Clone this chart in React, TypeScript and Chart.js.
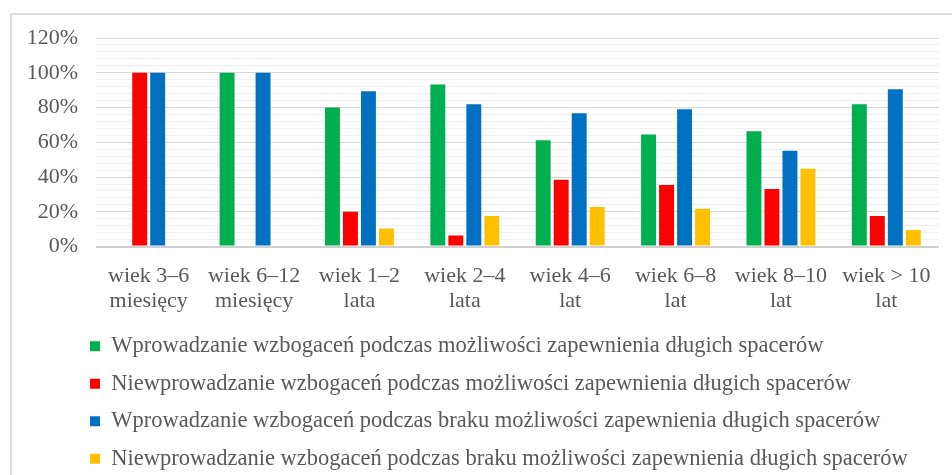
import React, { useEffect, useRef } from "react";
import { Chart, registerables } from "chart.js";

Chart.register(...registerables);

const categories: string[][] = [
  ["wiek 3–6", "miesięcy"],
  ["wiek 6–12", "miesięcy"],
  ["wiek 1–2", "lata"],
  ["wiek 2–4", "lata"],
  ["wiek 4–6", "lat"],
  ["wiek 6–8", "lat"],
  ["wiek 8–10", "lat"],
  ["wiek > 10", "lat"],
];

const seriesNames = [
  "Wprowadzanie wzbogaceń podczas możliwości zapewnienia długich spacerów",
  "Niewprowadzanie wzbogaceń podczas możliwości zapewnienia długich spacerów",
  "Wprowadzanie wzbogaceń podczas braku możliwości zapewnienia długich spacerów",
  "Niewprowadzanie wzbogaceń podczas braku możliwości zapewnienia długich spacerów",
];

const greenValues = [0, 100, 80, 93.3, 61.2, 64.5, 66.4, 81.9];
const redValues = [100, 0, 20, 6.4, 38.4, 35.5, 33.2, 17.6];
const blueValues = [100, 100, 89.4, 81.9, 76.7, 79, 55.1, 90.5];
const yellowValues = [0, 0, 10.4, 17.6, 22.8, 21.8, 44.8, 9.5];

const seriesColors = ["#00B050", "#FF0000", "#0070C0", "#FFC000"];

const yMax = 120;
const yStep = 4;
const yMajor = 20;

const FONT = "'Liberation Serif', 'Times New Roman', serif";
const TEXT = "#595959";

const legendShift = {
  id: "legendShift",
  afterLayout(chart: any) {
    if (chart.legend) {
      chart.legend.left += 63;
    }
  },
};

export default function App() {
  const ref = useRef<HTMLCanvasElement | null>(null);

  useEffect(() => {
    if (!ref.current) return;
    const values = [greenValues, redValues, blueValues, yellowValues];
    const chart = new Chart(ref.current, {
      type: "bar",
      data: {
        labels: categories,
        datasets: values.map((v, i) => ({
          label: seriesNames[i],
          data: v,
          backgroundColor: seriesColors[i],
          borderWidth: 0,
          barPercentage: 0.83,
          categoryPercentage: 0.683,
        })),
      },
      plugins: [legendShift],
      options: {
        responsive: false,
        animation: false,
        layout: { padding: { top: 23, right: 13, left: 0, bottom: 0 } },
        plugins: {
          tooltip: { enabled: false },
          legend: {
            position: "bottom",
            align: "start",
            labels: {
              boxWidth: 10,
              boxHeight: 10,
              padding: 15,
              color: TEXT,
              font: { family: FONT, size: 22.5 },
            },
          },
        },
        scales: {
          x: {
            grid: { display: false },
            border: { display: false },
            ticks: {
              color: TEXT,
              font: { family: FONT, size: 22, lineHeight: 1.1 },
              padding: 10,
              maxRotation: 0,
              autoSkip: false,
            },
            afterFit: (s: any) => {
              s.height -= 3;
            },
          },
          y: {
            min: 0,
            max: yMax,
            border: { display: false },
            grid: {
              drawTicks: false,
              color: (ctx: any) =>
                ctx.tick && ctx.tick.value === 0
                  ? "#d0d0d0"
                  : ctx.tick && ctx.tick.value % yMajor === 0
                  ? "#d9d9d9"
                  : "#efefef",
              lineWidth: (ctx: any) =>
                ctx.tick && ctx.tick.value === 0 ? 2 : 1,
            },
            ticks: {
              stepSize: yStep,
              maxTicksLimit: 100,
              autoSkip: false,
              padding: 18,
              color: TEXT,
              font: { family: FONT, size: 22 },
              callback: (v: any) => (Number(v) % yMajor === 0 ? v + "%" : ""),
            },
            afterFit: (s: any) => {
              s.width = 84;
              s.paddingTop = 0;
              s.paddingBottom = 0;
            },
          },
        },
      },
    });
    return () => chart.destroy();
  }, []);

  return (
    <div
      style={{
        position: "absolute",
        left: 10,
        top: 13,
        width: 942,
        height: 460,
        overflow: "hidden",
        borderTop: "2px solid #dedede",
        borderLeft: "2px solid #dedede",
        background: "#fff",
      }}
    >
      <canvas ref={ref} width={940} height={465} style={{ display: "block" }} />
    </div>
  );
}
